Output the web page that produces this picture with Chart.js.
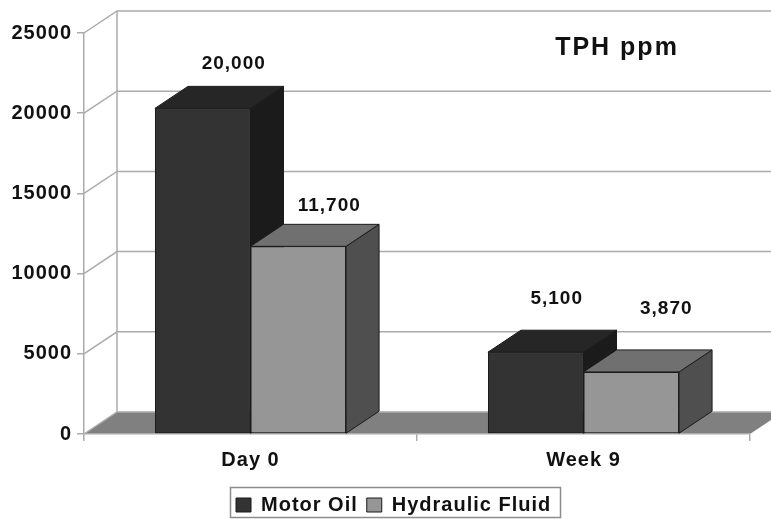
<!DOCTYPE html>
<html>
<head>
<meta charset="utf-8">
<script src="https://cdn.jsdelivr.net/npm/chart.js@4"></script>
<style>
  html, body { margin: 0; padding: 0; background: #fff; overflow: hidden; }
  canvas { display: block; }
</style>
</head>
<body>
<canvas id="tphChart" width="771" height="519"></canvas>
<script>
const categories = ["Day 0", "Week 9"];
// heights as the bars stand in the picture; the Day 0 motor oil bar rises a bit above its printed 20,000
const motorOil = [20300, 5100];
const hydraulicFluid = [11700, 3870];
const motorOilLabels = ["20,000", "5,100"];
const hydraulicFluidLabels = ["11,700", "3,870"];
const yTicks = [0, 5000, 10000, 15000, 20000, 25000];

const depthX = 33;
const depthY = 22;
const gridColor = "#ababab";
const textColor = "#111";
const fontFamily = "'Liberation Sans', Arial, sans-serif";

// label offsets from the top centre of each bar, they float unevenly in the original
const labelOffsets = [
  [[31, -45], [21, -53]],
  [[31, -41], [35, -63]],
];
const valueLabels = [motorOilLabels, hydraulicFluidLabels];
const faceColors = [
  { top: "#262626", side: "#1b1b1b" },
  { top: "#707070", side: "#4f4f4f" },
];

function fillPoly(ctx, pts, fill, stroke) {
  ctx.beginPath();
  pts.forEach((p, i) => (i ? ctx.lineTo(p[0], p[1]) : ctx.moveTo(p[0], p[1])));
  ctx.closePath();
  ctx.fillStyle = fill;
  ctx.fill();
  if (stroke) {
    ctx.strokeStyle = stroke;
    ctx.lineWidth = 1;
    ctx.stroke();
  }
}

const threeD = {
  id: "threeD",

  beforeLayout(chart) {
    chart.ctx.letterSpacing = "1px";
  },

  afterLayout(chart) {
    // the legend sits a little right of centre in the original
    chart.legend.left = 227;
    chart.legend.right = 771;
    chart.legend.top = 486;
  },

  beforeDraw(chart) {
    const ctx = chart.ctx;
    const { x, y } = chart.scales;
    ctx.letterSpacing = "1px";
    const floorY = y.getPixelForValue(0);

    // floor
    fillPoly(ctx, [
      [x.left, floorY],
      [x.left + depthX, floorY - depthY],
      [x.right + depthX, floorY - depthY],
      [x.right, floorY],
    ], "#808080");

    // back wall and side wall lines
    ctx.save();
    ctx.strokeStyle = gridColor;
    ctx.lineWidth = 1.5;
    yTicks.forEach((v) => {
      const py = y.getPixelForValue(v);
      ctx.beginPath();
      ctx.moveTo(x.left, py);
      ctx.lineTo(x.left + depthX, py - depthY);
      ctx.lineTo(x.right + depthX, py - depthY);
      ctx.stroke();
    });
    ctx.beginPath();
    ctx.moveTo(x.left + depthX, y.getPixelForValue(25000) - depthY);
    ctx.lineTo(x.left + depthX, floorY - depthY);
    ctx.stroke();
    ctx.restore();
  },

  afterDatasetsDraw(chart) {
    const ctx = chart.ctx;
    const edge = "#1a1a1a";

    // redrawn in dataset order so the lighter bar covers the dark bar's side
    chart.data.datasets.forEach((ds, d) => {
      chart.getDatasetMeta(d).data.forEach((bar) => {
        const half = bar.width / 2;
        const l = bar.x - half;
        const r = bar.x + half;
        bar.draw(ctx);
        fillPoly(ctx, [
          [r, bar.y],
          [r + depthX, bar.y - depthY],
          [r + depthX, bar.base - depthY],
          [r, bar.base],
        ], faceColors[d].side, edge);
        fillPoly(ctx, [
          [l, bar.y],
          [l + depthX, bar.y - depthY],
          [r + depthX, bar.y - depthY],
          [r, bar.y],
        ], faceColors[d].top, edge);
      });
    });

    ctx.save();
    ctx.fillStyle = textColor;
    ctx.textAlign = "center";
    ctx.textBaseline = "middle";
    ctx.font = "bold 19px " + fontFamily;
    chart.data.datasets.forEach((ds, d) => {
      chart.getDatasetMeta(d).data.forEach((bar, i) => {
        const off = labelOffsets[d][i];
        ctx.fillText(valueLabels[d][i], bar.x + off[0], bar.y + off[1]);
      });
    });
    ctx.font = "bold 25px " + fontFamily;
    ctx.letterSpacing = "2px";
    ctx.fillText("TPH ppm", 617, 48);
    ctx.restore();

    // legend frame
    ctx.save();
    ctx.strokeStyle = "#8c8c8c";
    ctx.lineWidth = 1.5;
    ctx.strokeRect(230.5, 487.5, 330, 30);
    ctx.restore();
  },
};

new Chart(document.getElementById("tphChart"), {
  type: "bar",
  plugins: [threeD],
  data: {
    labels: categories,
    datasets: [
      {
        label: "Motor Oil",
        data: motorOil,
        backgroundColor: "#333333",
        borderColor: "#1a1a1a",
        borderWidth: 1,
        borderSkipped: false,
      },
      {
        label: "Hydraulic Fluid",
        data: hydraulicFluid,
        backgroundColor: "#969696",
        borderColor: "#1a1a1a",
        borderWidth: 1,
        borderSkipped: false,
      },
    ],
  },
  options: {
    responsive: false,
    animation: false,
    categoryPercentage: 0.574,
    barPercentage: 1,
    layout: { padding: { top: 33, right: 21, left: 0, bottom: 0 } },
    scales: {
      x: {
        offset: true,
        afterFit(scale) { scale.height = 46; },
        grid: { offset: true, drawOnChartArea: false, tickLength: 7, color: gridColor, lineWidth: 1.5 },
        border: { color: gridColor, width: 1.5 },
        ticks: { color: textColor, padding: 7, font: { family: fontFamily, size: 20, weight: "bold" } },
      },
      y: {
        min: 0,
        max: 25000,
        afterFit(scale) { scale.width = 84; },
        afterBuildTicks(scale) { scale.ticks = yTicks.map((v) => ({ value: v })); },
        grid: { drawOnChartArea: false, tickLength: 7, color: gridColor, lineWidth: 1.5 },
        border: { color: gridColor, width: 1.5 },
        ticks: {
          color: textColor,
          padding: 5,
          font: { family: fontFamily, size: 20, weight: "bold" },
          callback: (v) => String(v),
        },
      },
    },
    plugins: {
      tooltip: { enabled: false },
      title: { display: false },
      legend: {
        position: "bottom",
        align: "start",
        labels: {
          boxWidth: 15,
          boxHeight: 14,
          padding: 9,
          color: textColor,
          font: { family: fontFamily, size: 20, weight: "bold" },
        },
      },
    },
  },
});
</script>
</body>
</html>
